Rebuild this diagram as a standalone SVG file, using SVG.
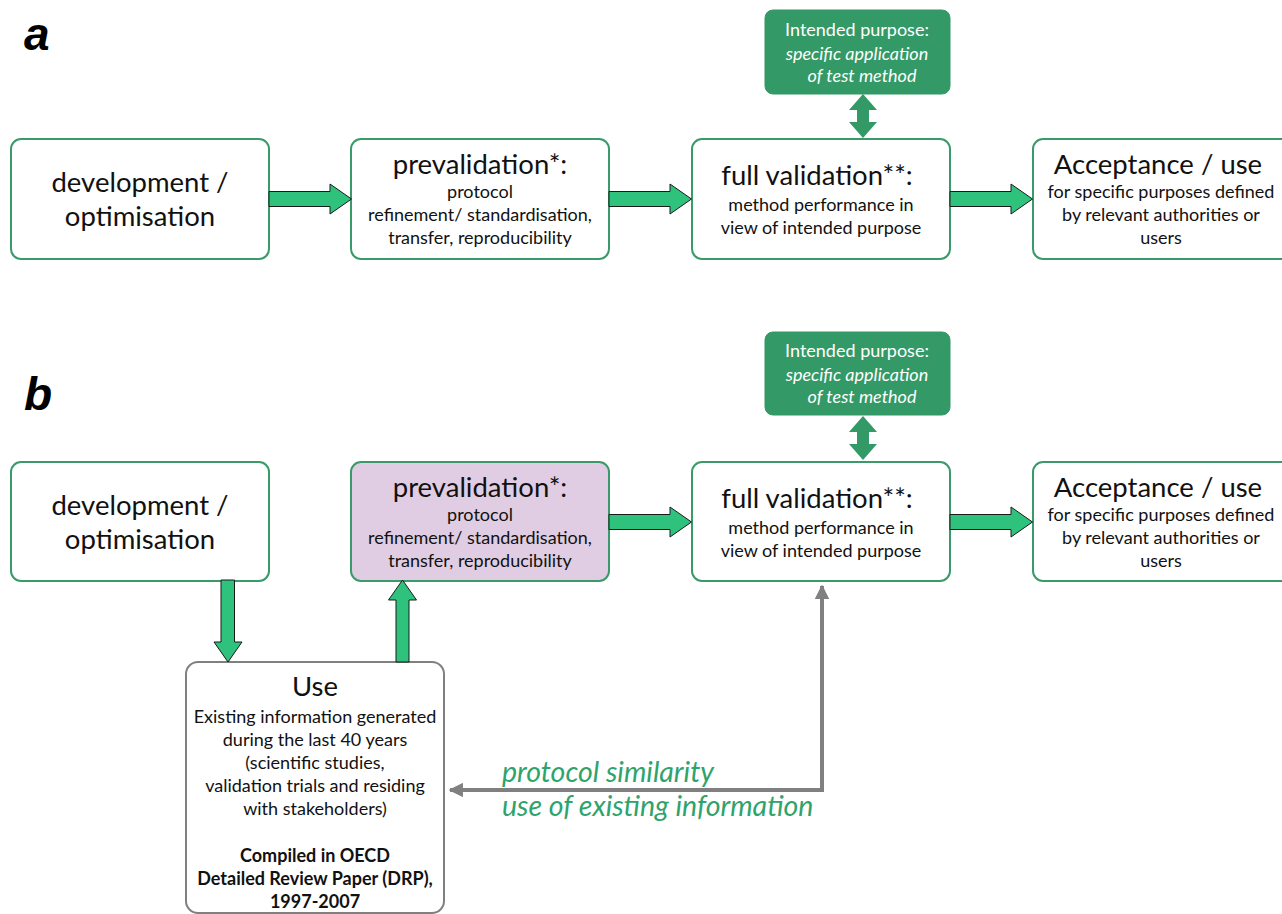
<svg xmlns="http://www.w3.org/2000/svg" width="1282" height="914" viewBox="0 0 1282 914">
<defs>
<style>
.box{fill:#fff;stroke:#3a9a6a;stroke-width:2}
.pbox{fill:#e0cde3;stroke:#3a9a6a;stroke-width:2}
.gbox{fill:#339966;stroke:#339966;stroke-width:1}
.ubox{fill:#fff;stroke:#808080;stroke-width:2}
.t{font-family:Lato,"Open Sans",sans-serif;fill:#111;text-anchor:middle}
.big{font-size:27.5px}
.sm{font-size:18px}
.w{fill:#fff}
.it{font-style:italic}
.b{font-weight:bold}
.lbl{font-family:"Liberation Sans",Arial,sans-serif;font-weight:bold;font-style:italic;font-size:46px;fill:#000}
.garr{fill:#2ec27c;stroke:#1a1a1a;stroke-width:1}
.darr{fill:#339966}
.gl{font-family:Lato,"Open Sans",sans-serif;font-style:italic;font-size:28.5px;fill:#2ea36c}
</style>
<marker id="ah" viewBox="0 0 10 10" refX="9" refY="5" markerWidth="3.6" markerHeight="3.6" orient="auto-start-reverse" markerUnits="strokeWidth">
<path d="M0,0 L10,5 L0,10 z" fill="#808080"/>
</marker>
</defs>
<rect width="1282" height="914" fill="#fff"/>

<text class="lbl" x="24" y="50">a</text>
<text class="lbl" x="24" y="410">b</text>

<!-- Panel a -->
<g id="a-purpose">
<rect class="gbox" x="765" y="10" width="185" height="84" rx="8"/>
<text class="t sm w" x="857" y="36">Intended purpose:</text>
<text class="t sm w it" x="857" y="60">specific application</text>
<text class="t sm w it" x="862" y="82">of test method</text>
</g>
<g id="a-dev">
<rect class="box" x="11" y="139" width="258" height="120" rx="10"/>
<text class="t big" x="140" y="192">development /</text>
<text class="t big" x="140" y="226">optimisation</text>
</g>
<g id="a-preval">
<rect class="box" x="351" y="139" width="258" height="120" rx="10"/>
<text class="t big" x="480" y="174">prevalidation*:</text>
<text class="t sm" x="480" y="198">protocol</text>
<text class="t sm" x="480" y="221">refinement/ standardisation,</text>
<text class="t sm" x="480" y="244">transfer, reproducibility</text>
</g>
<g id="a-full">
<rect class="box" x="692" y="139" width="258" height="120" rx="10"/>
<text class="t big" x="817" y="185">full validation**:</text>
<text class="t sm" x="821" y="211">method performance in</text>
<text class="t sm" x="821" y="234">view of intended purpose</text>
</g>
<g id="a-accept">
<rect class="box" x="1033" y="139" width="270" height="120" rx="10"/>
<text class="t big" x="1158" y="174">Acceptance / use</text>
<text class="t sm" x="1161" y="198">for specific purposes defined</text>
<text class="t sm" x="1161" y="221">by relevant authorities or</text>
<text class="t sm" x="1161" y="244">users</text>
</g>

<!-- Panel b -->
<g id="b-purpose">
<rect class="gbox" x="765" y="332" width="185" height="83" rx="8"/>
<text class="t sm w" x="857" y="357">Intended purpose:</text>
<text class="t sm w it" x="857" y="381">specific application</text>
<text class="t sm w it" x="862" y="403">of test method</text>
</g>
<g id="b-dev">
<rect class="box" x="11" y="462" width="258" height="119" rx="10"/>
<text class="t big" x="140" y="515">development /</text>
<text class="t big" x="140" y="549">optimisation</text>
</g>
<g id="b-preval">
<rect class="pbox" x="351" y="462" width="258" height="119" rx="10"/>
<text class="t big" x="480" y="497">prevalidation*:</text>
<text class="t sm" x="480" y="521">protocol</text>
<text class="t sm" x="480" y="544">refinement/ standardisation,</text>
<text class="t sm" x="480" y="567">transfer, reproducibility</text>
</g>
<g id="b-full">
<rect class="box" x="692" y="462" width="258" height="119" rx="10"/>
<text class="t big" x="817" y="508">full validation**:</text>
<text class="t sm" x="821" y="534">method performance in</text>
<text class="t sm" x="821" y="557">view of intended purpose</text>
</g>
<g id="b-accept">
<rect class="box" x="1033" y="462" width="270" height="119" rx="10"/>
<text class="t big" x="1158" y="497">Acceptance / use</text>
<text class="t sm" x="1161" y="521">for specific purposes defined</text>
<text class="t sm" x="1161" y="544">by relevant authorities or</text>
<text class="t sm" x="1161" y="567">users</text>
</g>
<g id="b-use">
<rect class="ubox" x="186" y="662" width="258" height="251" rx="12"/>
<text class="t big" x="315" y="696">Use</text>
<text class="t sm" x="315" y="723">Existing information generated</text>
<text class="t sm" x="315" y="746">during the last 40 years</text>
<text class="t sm" x="315" y="769">(scientific studies,</text>
<text class="t sm" x="315" y="792">validation trials and residing</text>
<text class="t sm" x="315" y="815">with stakeholders)</text>
<text class="t sm b" x="315" y="862">Compiled in OECD</text>
<text class="t sm b" x="315" y="885">Detailed Review Paper (DRP),</text>
<text class="t sm b" x="315" y="908">1997-2007</text>
</g>

<g id="connectors">
<!-- panel a block arrows -->
<path class="garr" d="M269,191.5 H330 V184 L351.5,199 L330,214 V206.5 H269 Z"/>
<path class="garr" d="M609,191.5 H670 V184 L691.5,199 L670,214 V206.5 H609 Z"/>
<path class="garr" d="M950,191.5 H1011 V184 L1032.5,199 L1011,214 V206.5 H950 Z"/>
<path class="darr" d="M863,94 L877,110 H869 V122 H877 L863,138 L849,122 H857 V110 H849 Z"/>
<!-- panel b block arrows -->
<path class="garr" d="M609,514.5 H670 V507 L691.5,522 L670,537 V529.5 H609 Z"/>
<path class="garr" d="M950,514.5 H1011 V507 L1032.5,522 L1011,537 V529.5 H950 Z"/>
<path class="darr" d="M863,416 L877,432 H869 V444 H877 L863,460 L849,444 H857 V432 H849 Z"/>
<path class="garr" d="M221,580 H234.5 V642 H242 L228,662 L214,642 H221 Z"/>
<path class="garr" d="M396,662 V600 H388.5 L402.5,580 L416.5,600 H409 V662 Z"/>
<!-- gray connector -->
<path d="M822,586 V790 H450" fill="none" stroke="#808080" stroke-width="4" marker-start="url(#ah)" marker-end="url(#ah)"/>
<text class="gl" x="502" y="782">protocol similarity</text>
<text class="gl" x="502" y="816">use of existing information</text>
</g>
</svg>
